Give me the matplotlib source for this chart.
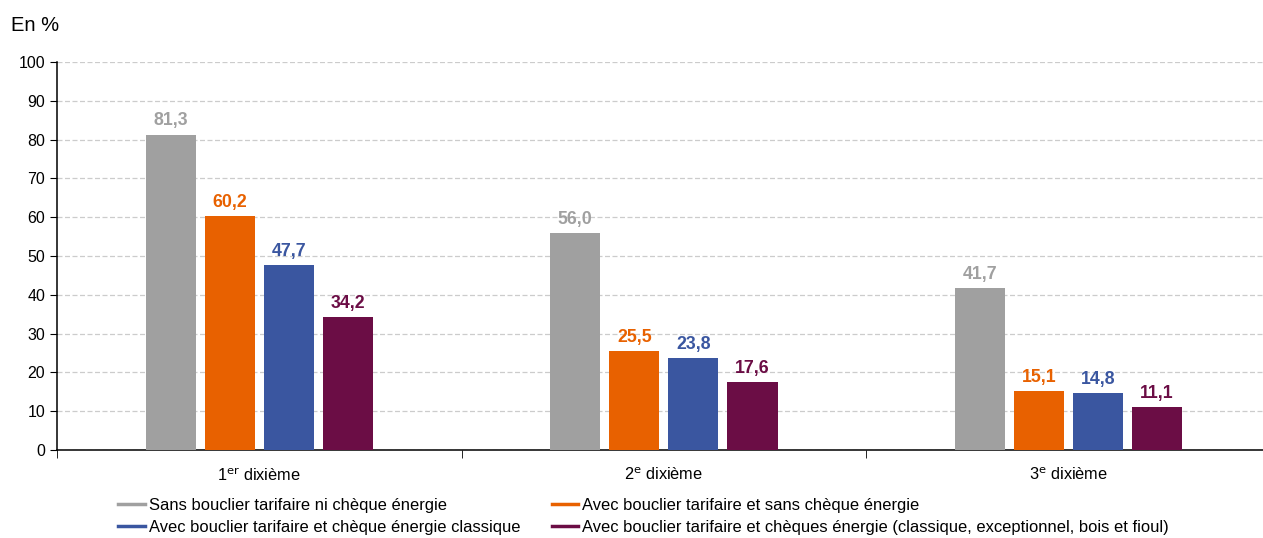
import matplotlib.pyplot as plt
import numpy as np

plt.rcParams['font.family'] = ['Liberation Sans', 'DejaVu Sans']

categories = ['1$^{\\rm er}$ dixième', '2$^{\\rm e}$ dixième', '3$^{\\rm e}$ dixième']
series = [
    'Sans bouclier tarifaire ni chèque énergie',
    'Avec bouclier tarifaire et sans chèque énergie',
    'Avec bouclier tarifaire et chèque énergie classique',
    'Avec bouclier tarifaire et chèques énergie (classique, exceptionnel, bois et fioul)',
]
values = [
    [81.3, 56.0, 41.7],
    [60.2, 25.5, 15.1],
    [47.7, 23.8, 14.8],
    [34.2, 17.6, 11.1],
]
colors = ['#a0a0a0', '#e86100', '#3a56a0', '#6b0d45']

fig = plt.figure(figsize=(12.63, 5.38), dpi=100)
ax = fig.add_axes([0.0451, 0.1636, 0.961, 0.7212])

x = np.arange(len(categories))
width = 0.124
step = 0.146
handles = []
for i, (name, vals, c) in enumerate(zip(series, values, colors)):
    pos = x + (i - 1.5) * step
    ax.bar(pos, vals, width, color=c, zorder=3)
    for p, v in zip(pos, vals):
        ax.text(p, v + 1.3, f'{v:.1f}'.replace('.', ','), ha='center', va='bottom',
                color=c, fontsize=12.8, fontweight='bold')
    h, = ax.plot([], [], color=c, lw=2.5, label=name)
    handles.append(h)

ax.set_xlim(-0.5, 2.5)
ax.set_ylim(0, 100)
ax.set_yticks(range(0, 101, 10))
ax.tick_params(axis='y', labelsize=11.5, length=5, direction='out')
ax.set_xticks(x)
ax.set_xticklabels(categories, fontsize=11.8)
ax.tick_params(axis='x', length=0, pad=12)
ax.set_xticks([-0.5, 0.5, 1.5], minor=True)
ax.tick_params(axis='x', which='minor', length=6, direction='out')
ax.yaxis.grid(True, linestyle=(0, (4, 2)), color='#cccccc', lw=0.9, zorder=0)
for s in ['top', 'right']:
    ax.spines[s].set_visible(False)
ax.spines['left'].set_linewidth(1.1)
ax.spines['bottom'].set_linewidth(1.1)

fig.text(0.009, 0.935, 'En %', fontsize=14.5, ha='left', va='bottom')

order = [0, 2, 1, 3]
fig.legend([handles[k] for k in order], [series[k] for k in order], ncol=2,
           loc='lower left', bbox_to_anchor=(0.082, -0.022), frameon=False,
           fontsize=11.9, handlelength=1.6, handletextpad=0.25,
           columnspacing=1.9, labelspacing=0.45)

fig.savefig('out.png', dpi=100)
